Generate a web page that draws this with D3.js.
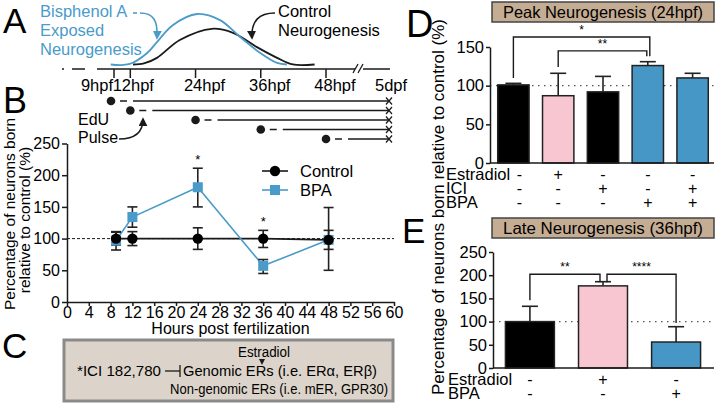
<!DOCTYPE html>
<html><head><meta charset="utf-8">
<script src="https://cdn.jsdelivr.net/npm/d3@7"></script>
<style>body{margin:0;background:#fff} svg{display:block} text{font-family:"Liberation Sans",Arial,sans-serif}</style>
</head><body><svg id="c" width="717" height="406"></svg>
<script>
// ---------- DATA ----------
// Panel A schematic timeline
const timelineHours = [9, 12, 24, 36, 48];
const timelineLabels = ["9hpf", "12hpf", "24hpf", "36hpf", "48hpf"];
const bpaCurveHours = [8.4, 11.9, 15.1, 16.9, 19.8, 24.3, 28.5, 32.2, 35.9, 39.0, 40.8];
const bpaCurveLevel = [0.01, 0.02, 0.235, 0.45, 0.78, 1.0, 0.88, 0.55, 0.235, 0.04, 0.01];
const ctrlCurveHours = [12.5, 14.5, 16.9, 21.1, 27.0, 30.9, 35.3, 39.0, 41.9, 45.9];
const ctrlCurveLevel = [0.01, 0.03, 0.14, 0.49, 0.71, 0.63, 0.35, 0.14, 0.01, 0.01];
const pulseHours = [9, 12, 24, 36, 48];
// Panel B
const hoursB = [9, 12, 24, 36, 48];
const controlMean = [100, 100, 100, 100, 98];
const controlLo = [90, 89, 83, 86, 83];
const controlHi = [110, 111, 117, 113, 113];
const bpaMean = [97, 134, 181, 57, 98];
const bpaLo = [82, 118, 150, 45, 50];
const bpaHi = [111, 150, 211, 67, 149];
const starHoursB = [24, 36];
const xTicksB = [0, 4, 8, 12, 16, 20, 24, 28, 32, 36, 40, 44, 48, 52, 56, 60];
const yTicksB = [0, 50, 100, 150, 200, 250];
// Panel D
const dValues = [101, 87, 92, 126, 110];
const dErrTop = [103, 116, 112, 131, 116];
const dEstradiol = ["-", "+", "-", "-", "-"];
const dICI = ["-", "-", "+", "-", "+"];
const dBPA = ["-", "-", "-", "+", "+"];
const yTicksD = [0, 50, 100, 150];
// Panel E
const eValues = [100, 177, 56];
const eErrTop = [133, 186, 89];
const eEstradiol = ["-", "+", "-"];
const eBPA = ["-", "-", "+"];
const yTicksE = [0, 50, 100, 150, 200, 250];

// ---------- STYLE ----------
const svg = d3.select("#c");
const BLUE = "#4a9bca", PINK = "#f7c6d0", BARBLUE = "#4797c6", INK = "#1a1a1a";
const dColors = ["#000", PINK, "#000", BARBLUE, BARBLUE];
const eColors = ["#000", PINK, BARBLUE];

function txt(x, y, s, size, o = {}) {
  const t = svg.append("text").attr("x", x).attr("y", y).attr("font-size", size)
    .attr("text-anchor", o.anchor || "start").attr("fill", o.fill || "#000").text(s);
  if (o.len) t.attr("textLength", o.len).attr("lengthAdjust", "spacingAndGlyphs");
  if (o.rotate) t.attr("transform", `rotate(-90,${x},${y})`);
  return t;
}
const defs = svg.append("defs");
function marker(id, color) {
  defs.append("marker").attr("id", id).attr("viewBox", "0 0 10 10").attr("refX", 8).attr("refY", 5)
    .attr("markerWidth", 9).attr("markerHeight", 9).attr("markerUnits", "userSpaceOnUse").attr("orient", "auto")
    .append("path").attr("d", "M0,0 L10,5 L0,10 Z").attr("fill", color);
}
marker("ab", BLUE); marker("ak", INK);

// ---------- PANEL LETTERS ----------
txt(3, 33, "A", 35);
txt(3, 113, "B", 36);
txt(2, 358, "C", 35);
txt(406, 37, "D", 38);
txt(402, 243, "E", 35);

// ---------- PANEL A ----------
const tl = d3.scaleLinear().domain([9, 48]).range([114, 326]);
const axY = 69;
function hl(x1, x2, y, c = INK, w = 1.5) { svg.append("line").attr("x1", x1).attr("x2", x2).attr("y1", y).attr("y2", y).attr("stroke", c).attr("stroke-width", w); }
hl(62, 64, axY); hl(72, 85, axY); hl(97, 355, axY); hl(363, 390, axY);
[355, 360].forEach(bx => svg.append("line").attr("x1", bx - 2).attr("x2", bx + 3).attr("y1", axY + 4).attr("y2", axY - 5).attr("stroke", INK).attr("stroke-width", 1.3));
svg.selectAll(".tlt").data(timelineHours).join("line").attr("x1", d => tl(d)).attr("x2", d => tl(d))
  .attr("y1", axY).attr("y2", axY + 9).attr("stroke", INK).attr("stroke-width", 1.5);
timelineLabels.forEach((s, i) => {
  const h = timelineHours[i];
  if (i === 0) txt(tl(h) - 1, 91, s, 16.5, { anchor: "end" });
  else if (i === 1) txt(tl(h) + 3, 91, s, 16.5, { anchor: "middle" });
  else txt(tl(h) + 9, 91, s, 16.5, { anchor: "middle" });
});
txt(375, 91, "5dpf", 16.5);

const yA = d3.scaleLinear().domain([0, 1]).range([65, 14]);
const curveLine = d3.line().x(d => tl(d[0])).y(d => yA(d[1])).curve(d3.curveCatmullRom.alpha(0.5));
svg.append("path").attr("d", curveLine(ctrlCurveHours.map((h, i) => [h, ctrlCurveLevel[i]])))
  .attr("fill", "none").attr("stroke", INK).attr("stroke-width", 1.8);
svg.append("path").attr("d", curveLine(bpaCurveHours.map((h, i) => [h, bpaCurveLevel[i]])))
  .attr("fill", "none").attr("stroke", BLUE).attr("stroke-width", 1.8);

txt(40, 17, "Bisphenol A", 16.5, { fill: BLUE });
txt(40, 36, "Exposed", 16.5, { fill: BLUE });
txt(40, 55, "Neurogenesis", 16.5, { fill: BLUE });
txt(278, 17, "Control", 16.5);
txt(278, 36, "Neurogenesis", 16.5);
hl(133, 137, 13, BLUE, 1.6);
svg.append("path").attr("d", "M140,13 C153,13 158,20 157,38").attr("fill", "none").attr("stroke", BLUE)
  .attr("stroke-width", 1.6).attr("marker-end", "url(#ab)");
svg.append("path").attr("d", "M275,13 C259,13 251,21 252,38").attr("fill", "none").attr("stroke", INK)
  .attr("stroke-width", 1.6).attr("marker-end", "url(#ak)");

// EdU pulse rows
pulseHours.forEach((h, i) => {
  const y = 101 + i * 9.5, x = tl(h) - (i === 0 ? 3 : 0);
  svg.append("circle").attr("cx", x).attr("cy", y).attr("r", 4.3).attr("fill", INK);
  hl(x + 9, x + 16, y);
  hl(x + 22, 389, y);
  svg.append("path").attr("d", `M386,${y - 3.5} L392,${y + 3.5} M392,${y - 3.5} L386,${y + 3.5}`).attr("stroke", INK).attr("stroke-width", 1.2);
});
txt(78, 125, "EdU", 16);
txt(78, 143, "Pulse", 16);
svg.append("path").attr("d", "M119,139 C136,139 143,132 143,119").attr("fill", "none").attr("stroke", INK)
  .attr("stroke-width", 1.5).attr("marker-end", "url(#ak)");

// ---------- PANEL B CHART ----------
const xB = d3.scaleLinear().domain([0, 60]).range([67, 394]);
const yB = d3.scaleLinear().domain([0, 250]).range([302, 143.5]);
const gBy = svg.append("g").attr("transform", "translate(67,0)")
  .call(d3.axisLeft(yB).tickValues(yTicksB).tickSize(5).tickPadding(2).tickSizeOuter(0));
const gBx = svg.append("g").attr("transform", "translate(0,302)")
  .call(d3.axisBottom(xB).tickValues(xTicksB).tickSize(4).tickPadding(1).tickSizeOuter(0));
[gBy, gBx].forEach(g => {
  g.selectAll("path,line").attr("stroke", INK).attr("stroke-width", 1.5);
  g.selectAll("text").attr("font-size", 16).attr("fill", "#000").attr("font-family", '"Liberation Sans",Arial,sans-serif');
});
svg.append("line").attr("x1", xB(0)).attr("x2", xB(60)).attr("y1", yB(100)).attr("y2", yB(100))
  .attr("stroke", INK).attr("stroke-width", 1).attr("stroke-dasharray", "3,2");
const lineB = d3.line().x(d => xB(d[0])).y(d => yB(d[1]));
svg.append("path").attr("d", lineB(hoursB.map((h, i) => [h, controlMean[i]]))).attr("fill", "none").attr("stroke", INK).attr("stroke-width", 1.6);
svg.append("path").attr("d", lineB(hoursB.map((h, i) => [h, bpaMean[i]]))).attr("fill", "none").attr("stroke", BLUE).attr("stroke-width", 1.6);
function errBar(x, lo, hi) {
  svg.append("line").attr("x1", x).attr("x2", x).attr("y1", yB(lo)).attr("y2", yB(hi)).attr("stroke", "#222").attr("stroke-width", 1.6);
  [lo, hi].forEach(v => svg.append("line").attr("x1", x - 5).attr("x2", x + 5).attr("y1", yB(v)).attr("y2", yB(v)).attr("stroke", "#222").attr("stroke-width", 1.6));
}
hoursB.forEach((h, i) => { errBar(xB(h), bpaLo[i], bpaHi[i]); errBar(xB(h), controlLo[i], controlHi[i]); });
svg.selectAll(".sq").data(hoursB).join("rect").attr("x", (d) => xB(d) - 5).attr("y", (d, i) => yB(bpaMean[i]) - 5)
  .attr("width", 10).attr("height", 10).attr("fill", BLUE);
svg.selectAll(".ci").data(hoursB).join("circle").attr("cx", d => xB(d)).attr("cy", (d, i) => yB(controlMean[i])).attr("r", 5.2).attr("fill", "#000");
starHoursB.forEach(h => {
  const i = hoursB.indexOf(h);
  txt(xB(h), yB(Math.max(bpaHi[i], controlHi[i])) - 4, "*", 13, { anchor: "middle" });
});
// legend
hl(262, 288, 171, INK, 1.6);
svg.append("circle").attr("cx", 275).attr("cy", 171).attr("r", 5.2).attr("fill", "#000");
txt(300, 177, "Control", 16.5);
hl(262, 288, 190, BLUE, 1.6);
svg.append("rect").attr("x", 270).attr("y", 185).attr("width", 10).attr("height", 10).attr("fill", BLUE);
txt(300, 196, "BPA", 16.5);
txt(15, 214, "Percentage of neurons born", 15.5, { anchor: "middle", rotate: true });
txt(30, 220, "relative to control (%)", 15.5, { anchor: "middle", rotate: true });
txt(xB(30), 334, "Hours post fertilization", 16, { anchor: "middle" });

// ---------- PANEL C ----------
svg.append("rect").attr("x", 64).attr("y", 340).attr("width", 329).attr("height", 61)
  .attr("fill", "#dcd4ca").attr("stroke", "#8a8a8a").attr("stroke-width", 3);
txt(264, 357, "Estradiol", 15.5, { anchor: "middle", len: 52 });
svg.append("path").attr("d", "M259,359 L265,359 L262,365 Z").attr("fill", INK);
txt(77, 376, "*ICI 182,780", 15.5, { len: 84 });
hl(165, 180, 371, INK, 1.3);
svg.append("line").attr("x1", 180).attr("x2", 180).attr("y1", 365).attr("y2", 377).attr("stroke", INK).attr("stroke-width", 1.3);
txt(183, 376, "Genomic ERs (i.e. ER\u03b1, ER\u03b2)", 15.5, { len: 194 });
txt(170, 394, "Non-genomic ERs (i.e. mER, GPR30)", 15.5, { len: 218 });

// ---------- PANEL D ----------
txt(444, 207, "Percentage of neurons born relative to control (%)", 17, { anchor: "middle", rotate: true, len: 376 });
const xD = d3.scaleBand().domain(d3.range(dValues.length)).range([491, 715]).paddingInner(0.3).paddingOuter(0.15);
const yD = d3.scaleLinear().domain([0, 150]).range([163, 47]);
function titleBox(y, s) {
  svg.append("rect").attr("x", 492).attr("y", y).attr("width", 222).attr("height", 20)
    .attr("fill", "#c5ad94").attr("stroke", "#444").attr("stroke-width", 1.5);
  txt(603, y + 16, s, 16.5, { anchor: "middle", len: 200 });
}
titleBox(2, "Peak Neurogenesis (24hpf)");
function barPanel(xS, yS, vals, errs, cols, ticks, x0, x1) {
  svg.append("line").attr("x1", x0).attr("x2", x1).attr("y1", yS(100)).attr("y2", yS(100))
    .attr("stroke", "#555").attr("stroke-width", 1.2).attr("stroke-dasharray", "1.5,4.5");
  vals.forEach((v, i) => {
    const cx = xS(i) + xS.bandwidth() / 2;
    svg.append("line").attr("x1", cx).attr("x2", cx).attr("y1", yS(v)).attr("y2", yS(errs[i])).attr("stroke", "#222").attr("stroke-width", 1.6);
    svg.append("line").attr("x1", cx - 8).attr("x2", cx + 8).attr("y1", yS(errs[i])).attr("y2", yS(errs[i])).attr("stroke", "#222").attr("stroke-width", 1.6);
  });
  svg.selectAll(null).data(vals).join("rect").attr("x", (d, i) => xS(i)).attr("width", xS.bandwidth())
    .attr("y", d => yS(d)).attr("height", d => yS(0) - yS(d)).attr("fill", (d, i) => cols[i])
    .attr("stroke", "#222").attr("stroke-width", 1.5);
  const gy = svg.append("g").attr("transform", `translate(${x0},0)`)
    .call(d3.axisLeft(yS).tickValues(ticks).tickSize(4).tickPadding(2).tickSizeOuter(0));
  gy.selectAll("path,line").attr("stroke", INK).attr("stroke-width", 1.5);
  gy.selectAll("text").attr("font-size", 16.5).attr("fill", "#000").attr("font-family", '"Liberation Sans",Arial,sans-serif');
  hl(x0, x1, yS(0));
}
barPanel(xD, yD, dValues, dErrTop, dColors, yTicksD, 490, 714);
function bracket(xS, yS, a, b, level, legA, legB, label, offA = 0, offB = 0) {
  const xa = xS(a) + xS.bandwidth() / 2 + offA, xb = xS(b) + xS.bandwidth() / 2 + offB;
  svg.append("path").attr("d", `M${xa},${yS(legA)} L${xa},${yS(level)} L${xb},${yS(level)} L${xb},${yS(legB)}`)
    .attr("fill", "none").attr("stroke", INK).attr("stroke-width", 1.4);
  txt((xa + xb) / 2, yS(level) - 3, label, 12, { anchor: "middle" });
}
bracket(xD, yD, 0, 3, 163, 110, 138, "*", 0, 2);
bracket(xD, yD, 1, 3, 145, 124, 138, "**", 0, -1);
const rowsD = [["Estradiol", dEstradiol, 180], ["ICI", dICI, 194], ["BPA", dBPA, 208]];
rowsD.forEach(([lab, arr, y]) => {
  txt(446, y, lab, 16.5);
  arr.forEach((s, i) => txt(xD(i) + xD.bandwidth() / 2 + (i === 0 ? 6 : 0), y, s, 16, { anchor: "middle" }));
});

// ---------- PANEL E ----------
titleBox(218, "Late Neurogenesis (36hpf)");
const xE = d3.scaleBand().domain(d3.range(eValues.length)).range([493, 713]).paddingInner(0.33).paddingOuter(0.17);
const yE = d3.scaleLinear().domain([0, 250]).range([368, 252]);
barPanel(xE, yE, eValues, eErrTop, eColors, yTicksE, 493, 714);
bracket(xE, yE, 0, 1, 202, 146, 185, "**", 0, -3);
bracket(xE, yE, 1, 2, 202, 185, 97, "****", 4, 0);
const rowsE = [["Estradiol", eEstradiol, 385], ["BPA", eBPA, 399]];
rowsE.forEach(([lab, arr, y]) => {
  txt(448, y, lab, 16.5);
  arr.forEach((s, i) => txt(xE(i) + xE.bandwidth() / 2, y, s, 16, { anchor: "middle" }));
});
</script></body></html>
